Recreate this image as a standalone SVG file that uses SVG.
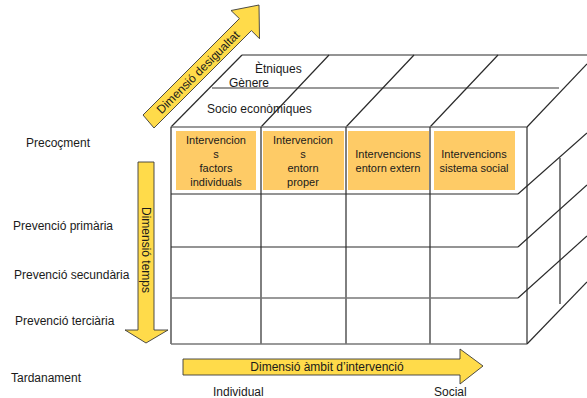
<svg xmlns="http://www.w3.org/2000/svg" width="587" height="398" viewBox="0 0 587 398">
<style>
text{font-family:"Liberation Sans",Arial,sans-serif;fill:#1a1a1a}
.lbl{font-size:12px}
.cell{font-size:11px;text-anchor:middle}
.ln{stroke:#2a2a2a;stroke-width:1.2;fill:none}
.lg{stroke:#777;stroke-width:1.4;fill:none}
.fill{fill:#FECB66}
.arr{fill:#FFDB4A;stroke:#3a3a3a;stroke-width:0.9}
</style>
<rect width="587" height="398" fill="#fff"/>
<g id="connectors">
  <!-- top face -->
  <line class="ln" x1="242" y1="55" x2="587" y2="55"/>
  <line class="lg" x1="212" y1="88" x2="559" y2="88"/>
  <line class="ln" x1="171" y1="127" x2="242" y2="55"/>
  <line class="ln" x1="261" y1="127" x2="329" y2="55"/>
  <line class="ln" x1="346" y1="127" x2="414" y2="55"/>
  <line class="ln" x1="430" y1="127" x2="498" y2="55"/>
  <line class="ln" x1="527" y1="127" x2="587" y2="64"/>
  <!-- front face -->
  <line class="lg" x1="171" y1="127" x2="527" y2="127"/>
  <line class="ln" x1="171" y1="127" x2="171" y2="344"/>
  <line class="ln" x1="261" y1="127" x2="261" y2="344"/>
  <line class="ln" x1="346" y1="127" x2="346" y2="344"/>
  <line class="ln" x1="430" y1="127" x2="430" y2="344"/>
  <line class="ln" x1="527" y1="127" x2="527" y2="344"/>
  <line class="ln" x1="171" y1="194" x2="518" y2="194"/>
  <line class="ln" x1="171" y1="247" x2="518" y2="247"/>
  <line class="lg" x1="171" y1="298" x2="518" y2="298"/>
  <line class="lg" x1="171" y1="344" x2="527" y2="344"/>
  <!-- right face -->
  <line class="ln" x1="518" y1="194" x2="587" y2="133"/>
  <line class="ln" x1="518" y1="247" x2="587" y2="185"/>
  <line class="ln" x1="518" y1="298" x2="587" y2="236"/>
  <line class="ln" x1="527" y1="344" x2="587" y2="282"/>
  <line class="ln" x1="560" y1="158" x2="560" y2="304"/>
</g>
<g id="cell-factors">
  <rect class="fill" x="176" y="131" width="80" height="59"/>
  <text class="cell" x="216" y="144">Intervencion</text>
  <text class="cell" x="216" y="158">s</text>
  <text class="cell" x="216" y="172">factors</text>
  <text class="cell" x="216" y="186">individuals</text>
</g>
<g id="cell-proper">
  <rect class="fill" x="263" y="131" width="81" height="59"/>
  <text class="cell" x="303" y="144">Intervencion</text>
  <text class="cell" x="303" y="158">s</text>
  <text class="cell" x="303" y="172">entorn</text>
  <text class="cell" x="303" y="186">proper</text>
</g>
<g id="cell-extern">
  <rect class="fill" x="348" y="131" width="81" height="59"/>
  <text class="cell" x="388" y="158">Intervencions</text>
  <text class="cell" x="388" y="172">entorn extern</text>
</g>
<g id="cell-social">
  <rect class="fill" x="434" y="131" width="81" height="59"/>
  <text class="cell" x="474" y="158">Intervencions</text>
  <text class="cell" x="474" y="172">sistema social</text>
</g>
<g id="layer-labels">
  <text class="lbl" x="255" y="73">Ètniques</text>
  <text class="lbl" x="229" y="87">Gènere</text>
  <text class="lbl" x="207" y="113">Socio econòmiques</text>
</g>
<g id="time-labels">
  <text class="lbl" x="26" y="147">Precoçment</text>
  <text class="lbl" x="13" y="230">Prevenció primària</text>
  <text class="lbl" x="14" y="279">Prevenció secundària</text>
  <text class="lbl" x="15" y="325">Prevenció terciària</text>
  <text class="lbl" x="11" y="382">Tardanament</text>
</g>
<g id="scope-labels">
  <text class="lbl" x="213" y="396">Individual</text>
  <text class="lbl" x="434" y="396">Social</text>
</g>
<g id="arrow-desigualtat">
  <polygon class="arr" points="143,115 239.4,18.6 231,10.5 259,5 259.5,38.7 251.4,30.6 154,128"/>
  <text class="lbl" text-anchor="middle" transform="translate(201,75) rotate(-45)">Dimensió  desigualtat</text>
</g>
<g id="arrow-temps">
  <polygon class="arr" points="138,162 154,162 154,330 168,330 146,343 125,330 138,330"/>
  <text class="lbl" text-anchor="middle" transform="translate(142,250) rotate(90)">Dimensió temps</text>
</g>
<g id="arrow-ambit">
  <polygon class="arr" points="183,359 460,359 460,349 483,366 460,384 460,375 183,375"/>
  <text class="lbl" text-anchor="middle" x="327" y="371">Dimensió àmbit d’intervenció</text>
</g>
</svg>
